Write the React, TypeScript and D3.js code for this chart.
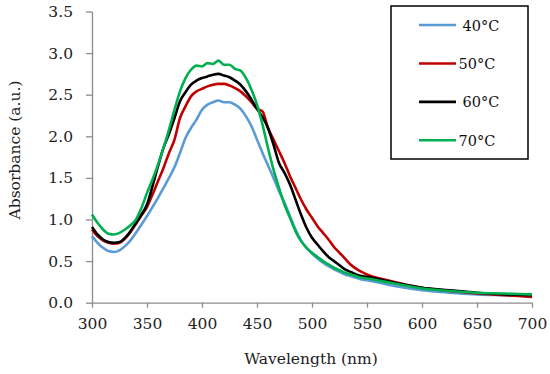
import * as d3 from "d3";
import { useEffect, useRef } from "react";

// wavelength grid (nm)
const wavelengths = [
  300, 305, 310, 315, 320, 325, 330, 335, 340, 345, 350, 355, 360, 365, 370, 375, 380, 385, 390, 395,
  400, 405, 410, 415, 420, 425, 430, 435, 440, 445, 450, 455, 460, 465, 470, 475, 480, 485, 490, 495,
  500, 505, 510, 515, 520, 525, 530, 535, 540, 545, 550, 575, 600, 625, 650, 675, 700,
];

const abs40 = [
  0.8, 0.72, 0.66, 0.62, 0.61, 0.63, 0.68, 0.75, 0.84, 0.94, 1.04, 1.15, 1.26, 1.38, 1.5, 1.63, 1.8, 1.98, 2.1, 2.2,
  2.32, 2.38, 2.41, 2.43, 2.41, 2.41, 2.38, 2.33, 2.24, 2.12, 1.96, 1.8, 1.65, 1.5, 1.34, 1.2, 1.04, 0.88, 0.75, 0.66,
  0.59, 0.53, 0.48, 0.44, 0.4, 0.37, 0.34, 0.32, 0.3, 0.28, 0.27, 0.2, 0.15, 0.12, 0.1, 0.09, 0.08,
];

const abs50 = [
  0.88, 0.8, 0.75, 0.72, 0.71, 0.72, 0.77, 0.85, 0.95, 1.05, 1.15, 1.3, 1.46, 1.62, 1.8, 1.96, 2.22, 2.36, 2.48, 2.54,
  2.57, 2.6, 2.62, 2.63, 2.63, 2.61, 2.58, 2.54, 2.48, 2.41, 2.33, 2.3, 2.1, 1.96, 1.82, 1.68, 1.52, 1.38, 1.24, 1.12,
  1.02, 0.92, 0.84, 0.76, 0.67, 0.6, 0.53, 0.46, 0.41, 0.37, 0.34, 0.25, 0.18, 0.14, 0.11, 0.09, 0.07,
];

const abs60 = [
  0.91, 0.82, 0.76, 0.73, 0.72, 0.73, 0.78, 0.86, 0.96, 1.06, 1.18, 1.4, 1.64, 1.86, 2.03, 2.22, 2.42, 2.53, 2.62, 2.67,
  2.7, 2.72, 2.74, 2.75, 2.73, 2.71, 2.67, 2.62, 2.54, 2.44, 2.33, 2.23, 2.1, 1.9, 1.68, 1.56, 1.42, 1.24, 1.06, 0.9,
  0.78, 0.7, 0.62, 0.55, 0.5, 0.45, 0.4, 0.37, 0.34, 0.32, 0.31, 0.24, 0.18, 0.15, 0.12, 0.1, 0.09,
];

const abs70 = [
  1.06, 0.96, 0.88, 0.83, 0.82, 0.84, 0.88, 0.93, 1.0, 1.14, 1.32, 1.48, 1.66, 1.86, 2.08, 2.32, 2.54, 2.7, 2.8, 2.85,
  2.84, 2.88, 2.87, 2.91, 2.86, 2.86, 2.81, 2.79, 2.7, 2.56, 2.38, 2.14, 1.86, 1.6, 1.38, 1.18, 1.02, 0.86, 0.74, 0.66,
  0.6, 0.55, 0.5, 0.46, 0.42, 0.39, 0.36, 0.34, 0.32, 0.3, 0.29, 0.23, 0.17, 0.14, 0.12, 0.11, 0.1,
];

const seriesLabels = ["40°C", "50°C", "60°C", "70°C"];
const seriesColors = ["#5b9bd5", "#c00000", "#000000", "#00b050"];
const seriesValues = [abs40, abs50, abs60, abs70];

const xTicks = [300, 350, 400, 450, 500, 550, 600, 650, 700];
const yTicks = [0, 0.5, 1, 1.5, 2, 2.5, 3, 3.5];

const width = 550;
const height = 374;
const font = "DejaVu Serif";
const fs = 15.5;

const App = () => {
  const svgRef = useRef(null);

  useEffect(() => {
    if (!svgRef.current) return;
    const svg = d3.select(svgRef.current);
    svg.selectAll("*").remove();

    const x = d3.scaleLinear().domain([300, 700]).range([92, 532]);
    const y = d3.scaleLinear().domain([0, 3.5]).range([302.7, 11.5]);

    const axisColor = "#8c8c8c";

    // x axis
    const gx = svg
      .append("g")
      .attr("transform", `translate(0,${y(0)})`)
      .call(d3.axisBottom(x).tickValues(xTicks).tickSize(5).tickSizeOuter(0).tickPadding(10));
    gx.attr("font-family", font).attr("font-size", fs);
    gx.select(".domain").attr("stroke", axisColor).attr("stroke-width", 1.3);
    gx.selectAll(".tick line").attr("stroke", axisColor).attr("stroke-width", 1.3);
    gx.selectAll(".tick text").attr("fill", "#222");

    // y axis
    const gy = svg
      .append("g")
      .attr("transform", `translate(${x(300)},0)`)
      .call(
        d3
          .axisLeft(y)
          .tickValues(yTicks)
          .tickSize(6)
          .tickSizeOuter(0)
          .tickPadding(13)
          .tickFormat(d3.format(".1f"))
      );
    gy.attr("font-family", font).attr("font-size", fs);
    gy.select(".domain").attr("stroke", axisColor).attr("stroke-width", 1.3);
    gy.selectAll(".tick line").attr("stroke", axisColor).attr("stroke-width", 1.3);
    gy.selectAll(".tick text").attr("fill", "#222");

    // axis titles
    svg
      .append("text")
      .attr("x", 311)
      .attr("y", 364)
      .attr("text-anchor", "middle")
      .attr("fill", "#222")
      .attr("font-family", font)
      .attr("font-size", fs)
      .text("Wavelength (nm)");

    svg
      .append("text")
      .attr("transform", "translate(20,150) rotate(-90)")
      .attr("text-anchor", "middle")
      .attr("fill", "#222")
      .attr("font-family", font)
      .attr("font-size", fs)
      .text("Absorbance (a.u.)");

    // curves
    const line = d3
      .line<number>()
      .x((_d, i) => x(wavelengths[i]))
      .y((d) => y(d))
      .curve(d3.curveMonotoneX);

    seriesValues.forEach((vals, i) => {
      svg
        .append("path")
        .datum(vals)
        .attr("fill", "none")
        .attr("stroke", seriesColors[i])
        .attr("stroke-width", 2.6)
        .attr("stroke-linejoin", "round")
        .attr("d", line);
    });

    // legend
    const legend = svg.append("g");
    legend
      .append("rect")
      .attr("x", 391)
      .attr("y", 6)
      .attr("width", 137)
      .attr("height", 153)
      .attr("fill", "white")
      .attr("stroke", "#000")
      .attr("stroke-width", 1.5);

    const legendY = d3.scalePoint().domain(seriesLabels).range([25, 140.3]);
    const textX = [462.5, 458.5, 462.5, 458.5];
    seriesLabels.forEach((label, i) => {
      const ly = legendY(label) ?? 0;
      legend
        .append("line")
        .attr("x1", 419)
        .attr("x2", 456)
        .attr("y1", ly)
        .attr("y2", ly)
        .attr("stroke", seriesColors[i])
        .attr("stroke-width", 2.6);
      legend
        .append("text")
        .attr("x", textX[i])
        .attr("y", ly + 5.5)
        .attr("fill", "#111")
        .attr("font-family", font)
        .attr("font-size", 14.5)
        .text(label);
    });
  }, []);

  return (
    <svg
      ref={svgRef}
      width={width}
      height={height}
      style={{ position: "absolute", left: 0, top: 0, background: "white" }}
    />
  );
};

export default App;
